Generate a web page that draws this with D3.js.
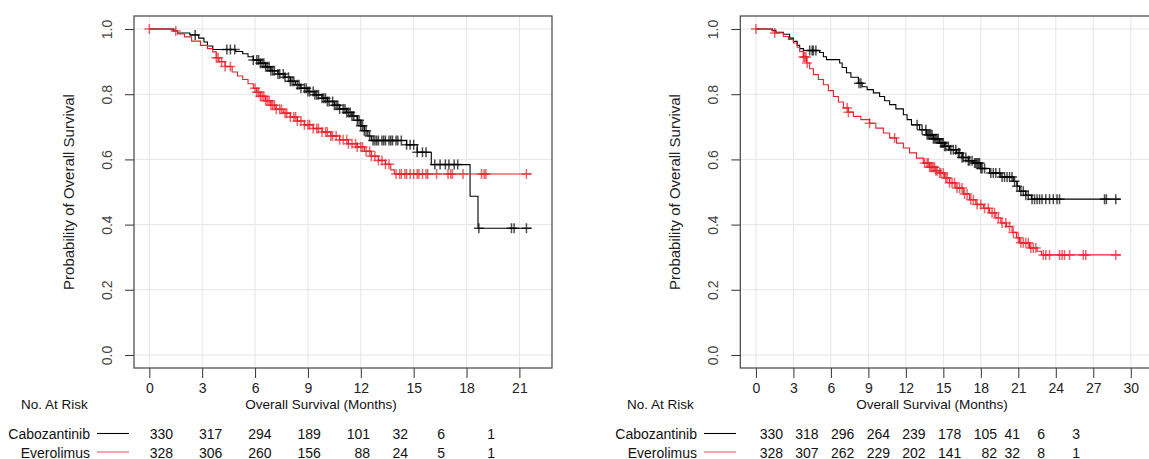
<!DOCTYPE html>
<html>
<head>
<meta charset="utf-8">
<script src="https://cdn.jsdelivr.net/npm/d3@7/dist/d3.min.js"></script>
<style>
  body { margin: 0; background: #fff; }
  text { font-family: "Liberation Sans", Arial, sans-serif; }
</style>
</head>
<body>
<div id="chart"></div>
<script>
// ---- data ----
// Kaplan-Meier steps: [month, survival probability]
const cabStepsA = [[0,1.0],[1.4,0.994],[1.6,0.988],[2.3,0.982],[2.8,0.972],[3.1,0.960],[3.3,0.948],[3.6,0.937],
  [4.9,0.931],[5.3,0.924],[5.6,0.915],[5.9,0.905],[6.3,0.895],[6.6,0.884],[6.9,0.872],[7.3,0.862],[7.7,0.852],
  [8.0,0.840],[8.3,0.829],[8.6,0.818],[9.0,0.808],[9.4,0.798],[9.8,0.788],[10.1,0.778],[10.5,0.766],[10.8,0.755],
  [11.2,0.744],[11.5,0.733],[11.8,0.720],[12.0,0.703],[12.2,0.688],[12.4,0.672],[12.6,0.658],[14.6,0.645],
  [15.2,0.622],[16.0,0.584],[18.2,0.487],[18.65,0.389]];
const eveStepsA = [[0,1.0],[1.3,0.994],[1.6,0.985],[2.0,0.976],[2.4,0.963],[2.9,0.950],[3.3,0.940],[3.6,0.930],
  [3.8,0.912],[3.95,0.900],[4.3,0.885],[4.7,0.868],[5.0,0.856],[5.3,0.845],[5.6,0.832],[5.9,0.818],[6.1,0.806],
  [6.3,0.794],[6.6,0.780],[6.9,0.766],[7.2,0.754],[7.6,0.742],[8.0,0.730],[8.4,0.718],[8.8,0.706],[9.3,0.695],
  [9.8,0.684],[10.3,0.672],[10.8,0.660],[11.3,0.648],[11.8,0.638],[12.2,0.625],[12.6,0.610],[13.0,0.597],
  [13.4,0.585],[13.7,0.568],[13.9,0.555]];
const cabCensA = [2.6,4.4,4.6,4.85,5.9,6.1,6.2,6.3,6.4,6.5,6.6,6.7,6.8,6.9,7.0,7.1,7.3,7.4,7.6,7.7,7.9,8.0,8.1,
  8.2,8.4,8.5,8.6,8.8,8.9,9.0,9.1,9.3,9.4,9.5,9.6,9.8,9.9,10.0,10.1,10.2,10.4,10.5,10.6,10.7,10.8,11.0,11.1,11.2,
  11.3,11.4,11.5,11.6,11.8,11.9,12.0,12.1,12.2,12.3,12.5,12.7,12.8,12.9,13.0,13.2,13.3,13.4,13.6,13.7,13.8,14.0,
  14.1,14.3,14.6,14.8,15.0,15.2,15.5,15.7,16.2,16.5,16.8,17.0,17.3,17.5,18.7,20.55,20.7,21.4];
const eveCensA = [0,1.5,3.8,3.9,4.1,4.3,4.6,6.0,6.1,6.2,6.3,6.4,6.5,6.6,6.7,6.8,6.9,7.0,7.1,7.2,7.4,7.5,7.7,7.8,
  8.0,8.2,8.3,8.4,8.6,8.8,9.0,9.1,9.3,9.5,9.6,9.8,10.0,10.1,10.3,10.4,10.6,10.8,11.0,11.2,11.3,11.5,11.7,11.8,
  12.0,12.1,12.3,12.5,12.6,12.8,13.0,13.2,13.4,13.6,14.0,14.2,14.3,14.5,14.6,14.8,15.0,15.2,15.3,15.5,15.7,15.8,
  16.3,16.95,17.1,17.2,17.8,18.85,19.0,19.1,21.4];
const lastTimeA = 21.69;

const cabStepsB = [[0,1.0],[1.3,0.996],[1.6,0.990],[2.2,0.984],[2.7,0.972],[3.0,0.962],[3.3,0.950],[3.5,0.940],
  [3.8,0.934],[5.1,0.928],[5.4,0.915],[5.65,0.906],[6.7,0.896],[6.9,0.882],[7.25,0.866],[7.6,0.852],[8.2,0.834],
  [8.5,0.823],[8.9,0.814],[9.4,0.804],[9.9,0.793],[10.3,0.780],[10.7,0.768],[11.2,0.755],[11.8,0.737],
  [12.1,0.722],[12.45,0.706],[13.1,0.691],[13.65,0.676],[14.2,0.663],[14.7,0.650],[15.1,0.640],[15.5,0.630],
  [16.05,0.620],[16.5,0.606],[17.0,0.596],[17.4,0.589],[18.0,0.572],[18.7,0.558],[19.6,0.546],[20.6,0.533],
  [20.9,0.518],[21.1,0.502],[21.6,0.490],[22.05,0.478]];
const eveStepsB = [[0,1.0],[1.3,0.994],[1.5,0.988],[2.2,0.977],[2.6,0.968],[3.0,0.957],[3.3,0.944],[3.5,0.931],
  [3.8,0.914],[4.05,0.896],[4.3,0.878],[4.6,0.860],[5.0,0.845],[5.4,0.829],[5.8,0.811],[6.2,0.793],[6.6,0.776],
  [7.0,0.758],[7.4,0.745],[7.8,0.732],[8.4,0.722],[9.1,0.711],[9.6,0.696],[10.2,0.681],[10.7,0.666],[11.25,0.650],
  [11.8,0.635],[12.3,0.620],[12.85,0.604],[13.4,0.589],[13.9,0.576],[14.4,0.565],[14.7,0.558],[15.1,0.543],
  [15.5,0.528],[16.0,0.512],[16.6,0.494],[17.1,0.476],[17.6,0.462],[18.2,0.450],[18.7,0.436],[19.2,0.420],
  [19.6,0.405],[20.05,0.394],[20.5,0.376],[20.85,0.360],[21.1,0.344],[21.9,0.328],[22.5,0.318],[22.85,0.307]];
const cabCensB = [4.3,4.5,4.6,4.8,8.25,8.4,12.9,13.3,13.6,13.7,13.8,13.9,14.0,14.1,14.2,14.3,14.4,14.5,14.6,14.8,
  14.9,15.0,15.1,15.2,15.4,15.6,15.8,16.0,16.2,16.3,16.5,16.6,16.8,17.0,17.1,17.3,17.5,17.6,17.7,17.8,17.9,18.0,
  18.1,18.3,18.8,19.0,19.2,19.5,19.7,19.9,20.1,20.3,20.5,20.7,20.9,21.2,21.4,21.6,21.8,22.1,22.3,22.5,22.7,22.9,
  23.2,23.5,23.8,24.1,24.3,27.9,28.05,28.8];
const eveCensB = [0,1.5,3.8,3.9,4.0,4.1,7.3,7.4,9.1,11.1,13.5,13.7,13.8,13.9,14.0,14.1,14.2,14.3,14.4,14.5,14.7,
  14.8,15.0,15.2,15.3,15.5,15.7,15.9,16.1,16.3,16.5,16.7,16.9,17.2,17.4,17.7,18.0,18.3,18.6,18.9,19.1,19.4,19.7,
  20.0,20.3,20.6,21.0,21.2,21.4,21.6,21.8,22.0,22.2,22.4,23.0,23.2,23.5,24.3,24.5,24.7,25.1,26.2,26.4,28.8];
const lastTimeB = 29.2;

// x axis ticks and numbers at risk
const ticksA = [0, 3, 6, 9, 12, 15, 18, 21];
const cabRiskA = [330, 317, 294, 189, 101, 32, 6, 1];
const eveRiskA = [328, 306, 260, 156, 88, 24, 5, 1];
const ticksB = [0, 3, 6, 9, 12, 15, 18, 21, 24, 27, 30];
const riskTimesB = [0, 3, 6, 9, 12, 15, 18, 21, 24, 27];
const cabRiskB = [330, 318, 296, 264, 239, 178, 105, 41, 6, 3];
const eveRiskB = [328, 307, 262, 229, 202, 141, 82, 32, 8, 1];
const yTicks = [0, 0.2, 0.4, 0.6, 0.8, 1.0];

const groups = ["Cabozantinib", "Everolimus"];
const colors = { Cabozantinib: "#000000", Everolimus: "#e8212b" };

const width = 1149, height = 459;
const svg = d3.select("#chart").append("svg")
  .attr("width", width)
  .attr("height", height);

renderPanel(svg, {
  left: 134, right: 552, xlim: [-0.87, 22.85], ticks: ticksA,
  curves: [
    { name: "Cabozantinib", steps: cabStepsA, cens: cabCensA, last: lastTimeA, risk: cabRiskA },
    { name: "Everolimus", steps: eveStepsA, cens: eveCensA, last: lastTimeA, risk: eveRiskA }
  ],
  riskTimes: ticksA,
  // column layout of the at-risk table (right edges of numbers)
  riskScale: d3.scaleLinear().domain([0, 12, 15, 18, 21]).range([173, 370, 408, 445, 495]),
  xLabelX: 321, atRiskX: 21, legendRight: 90
});

renderPanel(svg, {
  left: 740.3, right: 1162, xlim: [-1.25, 32.5], ticks: ticksB,
  curves: [
    { name: "Cabozantinib", steps: cabStepsB, cens: cabCensB, last: lastTimeB, risk: cabRiskB },
    { name: "Everolimus", steps: eveStepsB, cens: eveCensB, last: lastTimeB, risk: eveRiskB }
  ],
  riskTimes: riskTimesB,
  riskScale: d3.scaleLinear().domain([0, 18, 21, 24, 27]).range([783, 997, 1020, 1045, 1080]),
  xLabelX: 932, atRiskX: 627, legendRight: 697
});

function renderPanel(root, p) {
  // layout
  const top = 16, bottom = 368;

  // scales
  const x = d3.scaleLinear().domain(p.xlim).range([p.left, p.right]);
  const y = d3.scaleLinear().domain([-0.04, 1.04]).range([bottom, top]);

  const g = root.append("g");

  // grid
  g.append("g").selectAll("line")
    .data(p.ticks)
    .join("line")
    .attr("x1", d => x(d)).attr("x2", d => x(d))
    .attr("y1", top).attr("y2", bottom)
    .attr("stroke", "#e6e6e6").attr("stroke-width", 1);
  g.append("g").selectAll("line")
    .data(yTicks)
    .join("line")
    .attr("x1", p.left).attr("x2", p.right)
    .attr("y1", d => y(d)).attr("y2", d => y(d))
    .attr("stroke", "#e6e6e6").attr("stroke-width", 1);

  // axes
  g.append("g")
    .attr("transform", `translate(0,${bottom})`)
    .call(d3.axisBottom(x).tickValues(p.ticks).tickSize(10).tickSizeOuter(0).tickPadding(5))
    .call(a => a.select(".domain").remove())
    .call(a => a.selectAll(".tick line").attr("stroke", "#333"))
    .call(a => a.selectAll(".tick text")
      .attr("font-size", 14).attr("fill", "#222")
      .attr("font-family", "Liberation Sans, Arial, sans-serif"));

  const ay = g.append("g")
    .attr("transform", `translate(${p.left},0)`)
    .call(d3.axisLeft(y).tickValues(yTicks).tickSize(9).tickSizeOuter(0).tickFormat(d3.format(".1f")))
    .call(a => a.select(".domain").remove())
    .call(a => a.selectAll(".tick line").attr("stroke", "#333"));
  ay.selectAll(".tick text")
    .attr("x", null).attr("dy", null)
    .attr("transform", "translate(-22,0) rotate(-90)")
    .attr("text-anchor", "middle")
    .attr("font-size", 14).attr("fill", "#444")
    .attr("font-family", "Liberation Sans, Arial, sans-serif");

  // curves
  const line = d3.line()
    .x(d => x(d[0]))
    .y(d => y(d[1]))
    .curve(d3.curveStepAfter);
  const bisect = d3.bisector(d => d[0]).right;

  for (const c of p.curves) {
    const pts = c.steps.concat([[c.last, c.steps[c.steps.length - 1][1]]]);
    g.append("path")
      .attr("d", line(pts))
      .attr("fill", "none")
      .attr("stroke", colors[c.name])
      .attr("stroke-width", 1.1);
    g.append("g").selectAll("path")
      .data(c.cens)
      .join("path")
      .attr("transform", t => `translate(${x(t)},${y(c.steps[bisect(c.steps, t) - 1][1])})`)
      .attr("d", "M-5,0H5M0,-5V5")
      .attr("stroke", colors[c.name])
      .attr("stroke-opacity", 0.7)
      .attr("stroke-width", 1.5)
      .attr("fill", "none");
  }

  // box
  g.append("rect")
    .attr("x", p.left).attr("y", top)
    .attr("width", p.right - p.left).attr("height", bottom - top)
    .attr("fill", "none").attr("stroke", "#444").attr("stroke-width", 1.2);

  // axis titles
  g.append("text")
    .attr("transform", `translate(${p.left - 60},${(top + bottom) / 2}) rotate(-90)`)
    .attr("text-anchor", "middle")
    .attr("font-size", 15).attr("fill", "#222")
    .text("Probability of Overall Survival");
  g.append("text")
    .attr("x", p.xLabelX).attr("y", 409)
    .attr("text-anchor", "middle")
    .attr("font-size", 13.5).attr("fill", "#111")
    .text("Overall Survival (Months)");
  g.append("text")
    .attr("x", p.atRiskX).attr("y", 409)
    .attr("font-size", 13.5).attr("fill", "#111")
    .text("No. At Risk");

  // at-risk table
  const rowY = d3.scalePoint().domain(groups).range([439, 457.5]);
  const legendColor = { Cabozantinib: "#000000", Everolimus: "#f0606a" };
  for (const c of p.curves) {
    const ry = rowY(c.name);
    g.append("text")
      .attr("x", p.legendRight).attr("y", ry)
      .attr("text-anchor", "end")
      .attr("font-size", 14).attr("fill", "#111")
      .text(c.name);
    g.append("line")
      .attr("x1", p.legendRight + 7).attr("x2", p.legendRight + 39)
      .attr("y1", ry - 5.5).attr("y2", ry - 5.5)
      .attr("stroke", legendColor[c.name]).attr("stroke-width", 1.1);
    g.append("g").selectAll("text")
      .data(c.risk)
      .join("text")
      .attr("x", (d, i) => p.riskScale(p.riskTimes[i]))
      .attr("y", ry)
      .attr("text-anchor", "end")
      .attr("font-size", 14).attr("fill", "#111")
      .text(d => d);
  }
}
</script>
</body>
</html>
